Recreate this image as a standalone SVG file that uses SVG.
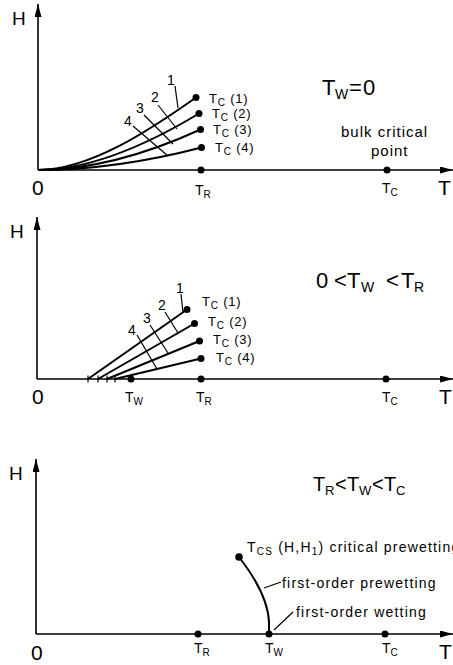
<svg xmlns="http://www.w3.org/2000/svg" width="453" height="665" viewBox="0 0 453 665">
<defs>
<marker id="ah" markerWidth="13" markerHeight="7" refX="13" refY="3.5" orient="auto" markerUnits="userSpaceOnUse"><path d="M0,0 L13,3.5 L0,7 z" fill="#000"/></marker>
<style>
text{font-family:"Liberation Sans",Arial,sans-serif;fill:#000}
.ax{stroke:#000;stroke-width:1.6;fill:none}
.cv{stroke:#000;stroke-width:2;fill:none}
.tk{stroke:#000;stroke-width:1.2;fill:none}
.big{font-size:21px}
.hl{font-size:19px}
.lb{font-size:14px}
.sm{font-size:13px;letter-spacing:0.8px}
.nt{font-size:14px;letter-spacing:1.2px}
.sub{font-size:10px}
.ttl{font-size:22px}
</style>
</defs>

<!-- Panel 1 -->
<g id="panel1">
<line class="ax" x1="38" y1="170" x2="38" y2="4" marker-end="url(#ah)"/>
<line class="ax" x1="38" y1="170" x2="453" y2="170" marker-end="url(#ah)"/>
<text class="hl" x="12" y="25">H</text>
<text class="big" x="32" y="195">0</text>
<text class="big" x="438" y="195">T</text>
<text class="lb" x="195" y="195">T<tspan class="sub" dy="3">R</tspan></text>
<text class="lb" x="382" y="193">T<tspan class="sub" dy="3">C</tspan></text>
<circle cx="201" cy="170" r="3.5"/>
<circle cx="387" cy="170" r="3.5"/>
<text class="ttl" x="322" y="95">T<tspan x="335" dy="4" font-size="14">W</tspan><tspan x="349" dy="-4">=</tspan><tspan x="363">0</tspan></text>
<text font-size="15" letter-spacing="1" x="341" y="137">bulk critical</text>
<text font-size="15" letter-spacing="1" x="371" y="156">point</text>
</g>
<g id="curves1">
<path class="cv" d="M38,170 C90,170 150,130 196,97.5"/>
<path class="cv" d="M38,170 C95,170 155,140 199,113.5"/>
<path class="cv" d="M38,170 C100,170 160,148 200.5,129.5"/>
<path class="cv" d="M38,170 C105,170 165,157 201.5,147.5"/>
<circle cx="196" cy="97.5" r="3.5"/>
<circle cx="199" cy="113.5" r="3.5"/>
<circle cx="200.5" cy="129.5" r="3.5"/>
<circle cx="201.5" cy="147.5" r="3.5"/>
<line class="tk" x1="175" y1="86" x2="178" y2="108"/>
<line class="tk" x1="158" y1="105" x2="177" y2="129"/>
<line class="tk" x1="144" y1="115" x2="173" y2="144"/>
<line class="tk" x1="133" y1="126" x2="168" y2="156"/>
<text class="lb" x="171" y="85" text-anchor="middle">1</text>
<text class="lb" x="155" y="102" text-anchor="middle">2</text>
<text class="lb" x="140" y="113" text-anchor="middle">3</text>
<text class="lb" x="128" y="126" text-anchor="middle">4</text>
<text class="sm" x="209" y="103">T<tspan class="sub" dy="3">C</tspan><tspan dy="-3"> (1)</tspan></text>
<text class="sm" x="212" y="118">T<tspan class="sub" dy="3">C</tspan><tspan dy="-3"> (2)</tspan></text>
<text class="sm" x="213" y="134">T<tspan class="sub" dy="3">C</tspan><tspan dy="-3"> (3)</tspan></text>
<text class="sm" x="215" y="152">T<tspan class="sub" dy="3">C</tspan><tspan dy="-3"> (4)</tspan></text>
</g>

<!-- Panel 2 -->
<g id="panel2">
<line class="ax" x1="37" y1="379" x2="37" y2="217" marker-end="url(#ah)"/>
<line class="ax" x1="37" y1="379" x2="453" y2="379" marker-end="url(#ah)"/>
<text class="hl" x="10" y="238">H</text>
<text class="big" x="32" y="404">0</text>
<text class="big" x="439" y="404">T</text>
<text class="lb" x="125" y="402">T<tspan class="sub" dy="3">W</tspan></text>
<text class="lb" x="196" y="402">T<tspan class="sub" dy="3">R</tspan></text>
<text class="lb" x="382" y="402">T<tspan class="sub" dy="3">C</tspan></text>
<circle cx="131" cy="379" r="3.5"/>
<circle cx="201" cy="379" r="3.5"/>
<circle cx="386" cy="379" r="3.5"/>
<text class="ttl" x="316" y="288">0<tspan x="334">&lt;</tspan><tspan x="347">T</tspan><tspan x="361" dy="4" font-size="14">W</tspan><tspan x="386" dy="-4">&lt;</tspan><tspan x="401">T</tspan><tspan x="414" dy="4" font-size="14">R</tspan></text>
</g>
<g id="curves2">
<line class="cv" x1="88" y1="379" x2="187" y2="309.5"/>
<line class="cv" x1="98" y1="379" x2="194.5" y2="323.5"/>
<line class="cv" x1="107" y1="379" x2="199.5" y2="341"/>
<line class="cv" x1="115" y1="379" x2="201" y2="358.5"/>
<line class="tk" x1="88" y1="375.5" x2="88" y2="382.5"/>
<line class="tk" x1="98" y1="375.5" x2="98" y2="382.5"/>
<line class="tk" x1="107" y1="375.5" x2="107" y2="382.5"/>
<line class="tk" x1="115" y1="375.5" x2="115" y2="382.5"/>
<circle cx="187" cy="309.5" r="3.5"/>
<circle cx="194.5" cy="323.5" r="3.5"/>
<circle cx="199.5" cy="341" r="3.5"/>
<circle cx="201" cy="358.5" r="3.5"/>
<line class="tk" x1="181" y1="294" x2="183" y2="313"/>
<line class="tk" x1="165" y1="312" x2="178" y2="333"/>
<line class="tk" x1="150" y1="325" x2="168" y2="353"/>
<line class="tk" x1="137" y1="335" x2="157" y2="369"/>
<text class="lb" x="180" y="293" text-anchor="middle">1</text>
<text class="lb" x="162" y="310" text-anchor="middle">2</text>
<text class="lb" x="147" y="323" text-anchor="middle">3</text>
<text class="lb" x="132" y="335" text-anchor="middle">4</text>
<text class="sm" x="202" y="306">T<tspan class="sub" dy="3">C</tspan><tspan dy="-3"> (1)</tspan></text>
<text class="sm" x="208" y="326">T<tspan class="sub" dy="3">C</tspan><tspan dy="-3"> (2)</tspan></text>
<text class="sm" x="213" y="344">T<tspan class="sub" dy="3">C</tspan><tspan dy="-3"> (3)</tspan></text>
<text class="sm" x="216" y="362">T<tspan class="sub" dy="3">C</tspan><tspan dy="-3"> (4)</tspan></text>
</g>

<!-- Panel 3 -->
<g id="panel3">
<line class="ax" x1="36" y1="634" x2="36" y2="459" marker-end="url(#ah)"/>
<line class="ax" x1="36" y1="634" x2="453" y2="634" marker-end="url(#ah)"/>
<text class="hl" x="9" y="480">H</text>
<text class="big" x="31" y="660">0</text>
<text class="big" x="439" y="659">T</text>
<text class="lb" x="194" y="653">T<tspan class="sub" dy="3">R</tspan></text>
<text class="lb" x="265" y="653">T<tspan class="sub" dy="3">W</tspan></text>
<text class="lb" x="382" y="653">T<tspan class="sub" dy="3">C</tspan></text>
<circle cx="198" cy="634" r="3.5"/>
<circle cx="269" cy="634" r="3.5"/>
<circle cx="385" cy="634" r="3.5"/>
<text font-size="20" x="313" y="491">T<tspan x="325" dy="4" font-size="13">R</tspan><tspan x="335" dy="-4">&lt;</tspan><tspan x="347">T</tspan><tspan x="359" dy="4" font-size="13">W</tspan><tspan x="372" dy="-4">&lt;</tspan><tspan x="384">T</tspan><tspan x="396" dy="4" font-size="13">C</tspan></text>
</g>
<g id="curves3">
<path class="cv" stroke-width="2.5" d="M239,557 C253,575 268,598 269,622 L269,634"/>
<circle cx="239" cy="557" r="3.8"/>
<line class="tk" x1="264" y1="588" x2="281" y2="582"/>
<line class="tk" x1="274" y1="630" x2="293" y2="612"/>
<text class="nt" x="247" y="552">T<tspan class="sub" dy="3">CS</tspan><tspan dy="-3"> (H,H</tspan><tspan class="sub" dy="3">1</tspan><tspan dy="-3">) critical prewetting</tspan></text>
<text class="nt" x="282" y="588">first-order prewetting</text>
<text class="nt" x="296" y="617">first-order wetting</text>
</g>
</svg>
